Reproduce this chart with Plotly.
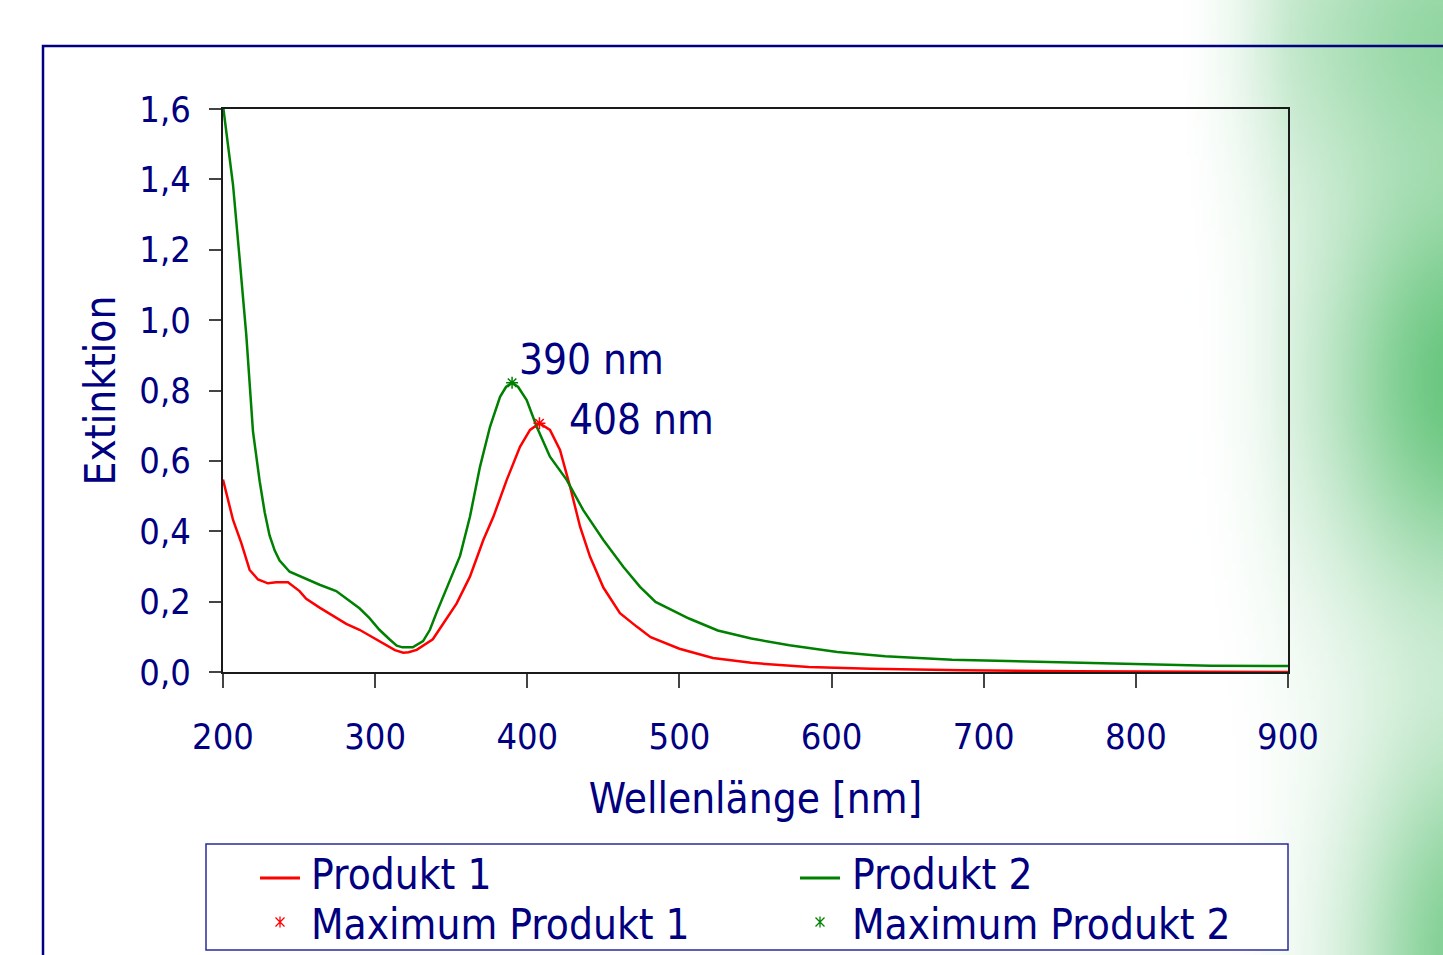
import base64, struct, zlib, math
import plotly.graph_objects as go

# ---------------- data ----------------
wl_p2 = [200, 203, 206.6, 210.9, 215.3, 219.7, 224.1, 227.4, 230.6, 234, 237.2, 243.8, 252.5, 263.5,
         274.4, 283.2, 289.7, 296.3, 302.8, 309.4, 314.2, 318, 324.7, 331.5, 336, 340.3, 348.9, 355.8,
         362.3, 368.9, 375.5, 382.1, 386, 390, 394, 399.6, 406.2, 414.9, 425.9, 436.8, 450, 463.1,
         474.1, 484.3, 506.3, 525.2, 547.2, 572.3, 603.8, 635.2, 679.2, 742.1, 789.3, 849.1, 900]
ext_p2 = [1.61, 1.50, 1.384, 1.176, 0.958, 0.684, 0.542, 0.454, 0.388, 0.345, 0.317, 0.285, 0.268, 0.248,
          0.230, 0.202, 0.181, 0.153, 0.120, 0.093, 0.075, 0.070, 0.070, 0.088, 0.12, 0.168, 0.255, 0.33,
          0.441, 0.583, 0.697, 0.782, 0.81, 0.822, 0.81, 0.773, 0.697, 0.612, 0.546, 0.460, 0.375, 0.299,
          0.242, 0.199, 0.152, 0.118, 0.095, 0.076, 0.057, 0.045, 0.035, 0.028, 0.024, 0.018, 0.017]

wl_p1 = [200, 206.6, 212.0, 217.5, 223.0, 229.5, 235, 242.7, 250.3, 254.7, 263.5, 272.2, 281, 289.7,
         298.5, 307.2, 313, 318.5, 322, 327.3, 333, 337.9, 344.8, 353.6, 362.3, 371.1, 377.7, 386.5,
         395.2, 401.8, 408, 414.9, 421.5, 428.1, 434.7, 441.2, 450, 460.9, 471.9, 481.1, 500, 522,
         547.2, 584.9, 625.8, 685.5, 761, 900]
ext_p1 = [0.547, 0.432, 0.367, 0.290, 0.263, 0.252, 0.255, 0.255, 0.230, 0.208, 0.183, 0.159, 0.137, 0.120,
          0.098, 0.077, 0.062, 0.055, 0.056, 0.063, 0.078, 0.093, 0.138, 0.195, 0.271, 0.375, 0.441, 0.546,
          0.640, 0.688, 0.707, 0.688, 0.631, 0.527, 0.413, 0.328, 0.240, 0.167, 0.129, 0.099, 0.066, 0.040,
          0.026, 0.014, 0.0095, 0.005, 0.002, 0.0]

max_p1_wl = [408]
max_p1_ext = [0.707]
max_p2_wl = [390]
max_p2_ext = [0.822]
peak_labels = ["390 nm", "408 nm"]

x_ticks = [200, 300, 400, 500, 600, 700, 800, 900]
x_ticktext = ["200", "300", "400", "500", "600", "700", "800", "900"]
y_ticks = [0.0, 0.2, 0.4, 0.6, 0.8, 1.0, 1.2, 1.4, 1.6]
y_ticktext = ["0,0", "0,2", "0,4", "0,6", "0,8", "1,0", "1,2", "1,4", "1,6"]

series_names = ["Produkt 1", "Produkt 2", "Maximum Produkt 1", "Maximum Produkt 2"]
x_title = "Wellenlänge [nm]"
y_title = "Extinktion"

# ---------------- style / geometry ----------------
W, H = 1443, 955
ML, MR, MT, MB = 223, 155, 109, 283
PW, PH = W - ML - MR, H - MT - MB
NAVY = "#000080"
RED = "#ff0000"
GREEN = "#008000"
FONT = "DejaVu Sans Condensed, DejaVu Sans, sans-serif"


def px2x(p):
    return (p - ML) / PW


def py2y(p):
    return (H - MB - p) / PH


# background green gradient as a small generated PNG
def make_bg_png():
    iw, ih = 70, 240
    x0, x1 = 1150, 1443
    g = (104, 198, 126)
    blobs = [  # (cx, cy, sx, sy, amp)
        (1465, 380, 105, 165, 1.0),
        (1480, 30, 170, 120, 0.7),
        (1470, 960, 85, 170, 0.85),
    ]
    rows = []
    for j in range(ih):
        Y = (j + 0.5) / ih * H
        row = bytearray()
        for i in range(iw):
            X = x0 + (i + 0.5) / iw * (x1 - x0)
            keep = 1.0
            for cx, cy, sx, sy, a in blobs:
                v = a * math.exp(-0.5 * (((X - cx) / sx) ** 2 + ((Y - cy) / sy) ** 2))
                keep *= (1 - v)
            s = min(1.0, max(0.0, (X - 1165) / 140.0))
            s = s * s * (3 - 2 * s)
            t = (1 - keep) * s
            for c in g:
                row.append(int(round(255 * (1 - t) + c * t)))
        rows.append(bytes(row))
    raw = b"".join(b"\x00" + r for r in rows)

    def chunk(tag, data):
        c = struct.pack(">I", len(data)) + tag + data
        return c + struct.pack(">I", zlib.crc32(tag + data) & 0xffffffff)

    png = b"\x89PNG\r\n\x1a\n" + chunk(b"IHDR", struct.pack(">IIBBBBB", iw, ih, 8, 2, 0, 0, 0)) \
        + chunk(b"IDAT", zlib.compress(raw, 9)) + chunk(b"IEND", b"")
    return "data:image/png;base64," + base64.b64encode(png).decode()


fig = go.Figure()
fig.add_trace(go.Scatter(x=wl_p1, y=ext_p1, mode="lines", name=series_names[0],
                         line=dict(color=RED, width=2.5), showlegend=False))
fig.add_trace(go.Scatter(x=wl_p2, y=ext_p2, mode="lines", name=series_names[1],
                         line=dict(color=GREEN, width=2.5), showlegend=False))
fig.add_trace(go.Scatter(x=max_p1_wl, y=max_p1_ext, mode="markers", name=series_names[2],
                         marker=dict(symbol="asterisk-open", size=10, color=RED, line=dict(width=1.5, color=RED)),
                         showlegend=False))
fig.add_trace(go.Scatter(x=max_p2_wl, y=max_p2_ext, mode="markers", name=series_names[3],
                         marker=dict(symbol="asterisk-open", size=10, color=GREEN, line=dict(width=1.5, color=GREEN)),
                         showlegend=False))

annotations = [
    dict(x=max_p2_wl[0] + 3, y=max_p2_ext[0] + 0.065, text=peak_labels[0], xref="x", yref="y",
         xanchor="left", yanchor="middle", showarrow=False, font=dict(size=42, color=NAVY, family=FONT)),
    dict(x=max_p1_wl[0] + 18, y=max_p1_ext[0] + 0.01, text=peak_labels[1], xref="x", yref="y",
         xanchor="left", yanchor="middle", showarrow=False, font=dict(size=42, color=NAVY, family=FONT)),
]

shapes = [
    # outer slide frame
    dict(type="path", xref="paper", yref="paper",
         path=f"M {px2x(43)},{py2y(970)} L {px2x(43)},{py2y(46)} L {px2x(1460)},{py2y(46)}",
         line=dict(color=NAVY, width=2.5), layer="above"),
    # legend box
    dict(type="rect", xref="paper", yref="paper", x0=px2x(206), x1=px2x(1288), y0=py2y(950), y1=py2y(844),
         fillcolor="white", line=dict(color="#2a2a9a", width=1.5), layer="above"),
]

# manual legend
leg_rows = [874, 924]
leg_cols = [(260, 309), (800, 850)]
leg_items = [(0, 0, "line", RED), (1, 0, "line", GREEN), (0, 1, "mark", RED), (1, 1, "mark", GREEN)]
for k, (col, row, kind, color) in enumerate(leg_items):
    sx, tx = leg_cols[col]
    cy = leg_rows[row]
    if kind == "line":
        shapes.append(dict(type="line", xref="paper", yref="paper", x0=px2x(sx), x1=px2x(sx + 40),
                           y0=py2y(cy + 4), y1=py2y(cy + 4), line=dict(color=color, width=3), layer="above"))
    else:
        cx = sx + 20
        cyy = cy - 2
        r = 4.5
        p = (f"M {px2x(cx - r)},{py2y(cyy - r)} L {px2x(cx + r)},{py2y(cyy + r)} "
             f"M {px2x(cx - r)},{py2y(cyy + r)} L {px2x(cx + r)},{py2y(cyy - r)} "
             f"M {px2x(cx)},{py2y(cyy - r - 1)} L {px2x(cx)},{py2y(cyy + r + 1)}")
        shapes.append(dict(type="path", xref="paper", yref="paper", path=p,
                           line=dict(color=color, width=1.3), layer="above"))
    annotations.append(dict(x=px2x(tx), y=py2y(cy), xref="paper", yref="paper", text=series_names[k],
                            xanchor="left", yanchor="middle", showarrow=False,
                            font=dict(size=42, color=NAVY, family=FONT)))

fig.update_layout(
    width=W, height=H,
    margin=dict(l=ML, r=MR, t=MT, b=MB, autoexpand=False),
    paper_bgcolor="white", plot_bgcolor="white",
    font=dict(family=FONT, color=NAVY),
    showlegend=False,
    annotations=annotations,
    shapes=shapes,
    images=[dict(source=make_bg_png(), xref="paper", yref="paper", x=px2x(1150), y=py2y(0),
                 sizex=(1443 - 1150) / PW, sizey=H / PH, xanchor="left", yanchor="top",
                 sizing="stretch", layer="below")],
)
fig.update_xaxes(range=[200, 900], tickvals=x_ticks, ticktext=x_ticktext,
                 showline=True, linecolor="#1a1a1a", linewidth=2, mirror=True,
                 ticks="outside", ticklen=14, tickwidth=1.5, tickcolor="#444",
                 showgrid=False, zeroline=False,
                 tickfont=dict(size=36, color=NAVY, family=FONT), ticklabelstandoff=18,
                 title=dict(text=x_title, font=dict(size=42, color=NAVY, family=FONT), standoff=27))
fig.update_yaxes(range=[0, 1.6], tickvals=y_ticks, ticktext=y_ticktext,
                 showline=True, linecolor="#1a1a1a", linewidth=2, mirror=True,
                 ticks="outside", ticklen=12, tickwidth=1.5, tickcolor="#444",
                 showgrid=False, zeroline=False,
                 tickfont=dict(size=36, color=NAVY, family=FONT), ticklabelstandoff=11,
                 title=dict(text=y_title, font=dict(size=42, color=NAVY, family=FONT), standoff=11))

fig.write_html("out.html", config={"displayModeBar": False},
               post_script="document.body.style.margin='0';document.body.style.overflow='hidden';")
